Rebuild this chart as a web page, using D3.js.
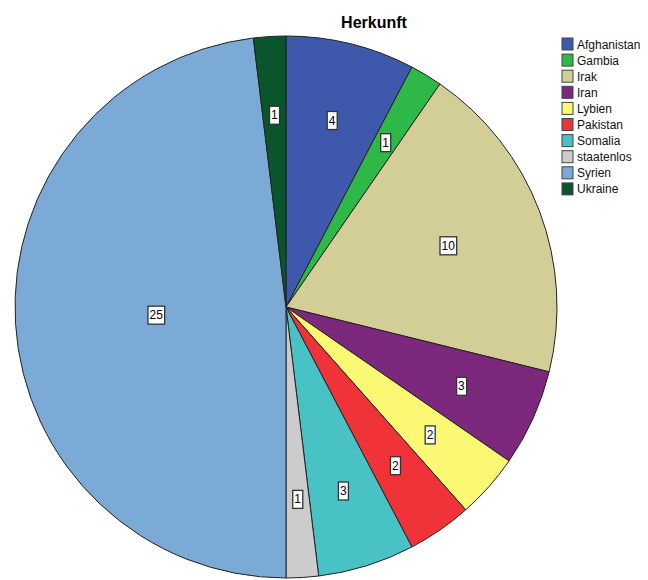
<!doctype html>
<html>
<head>
<meta charset="utf-8">
<script src="https://cdnjs.cloudflare.com/ajax/libs/d3/7.8.5/d3.min.js"></script>
<style>
  body { margin: 0; background: #fff; }
  svg { font-family: Arial, "Liberation Sans", sans-serif; }
</style>
</head>
<body>
<svg id="chart" width="648" height="580"></svg>
<script>
var countries = ["Afghanistan", "Gambia", "Irak", "Iran", "Lybien", "Pakistan", "Somalia", "staatenlos", "Syrien", "Ukraine"];
var counts = [4, 1, 10, 3, 2, 2, 3, 1, 25, 1];
var colours = ["#3e58ac", "#2eb848", "#d3ce97", "#7c287d", "#fbf873", "#ef3338", "#48c2c5", "#cccccc", "#7aaad5", "#0a562c"];

var svg = d3.select("#chart");
var cx = 286, cy = 307, r = 271;

svg.append("text")
  .attr("x", 374).attr("y", 28)
  .attr("text-anchor", "middle")
  .style("font-size", "16px").style("font-weight", "bold")
  .text("Herkunft");

var data = countries.map((c, i) => ({name: c, value: counts[i]}));
var colour = d3.scaleOrdinal().domain(countries).range(colours);

var pie = d3.pie().value(d => d.value).sort(null);
var arc = d3.arc().innerRadius(0).outerRadius(r);
var arcs = pie(data);

var g = svg.append("g").attr("transform", "translate(" + cx + "," + cy + ")");

g.selectAll("path")
  .data(arcs)
  .enter()
  .append("path")
  .attr("d", arc)
  .style("fill", d => colour(d.data.name))
  .style("stroke", "#222")
  .style("stroke-width", "1px");

// value labels in little white boxes
var labels = g.selectAll("g.lbl")
  .data(arcs)
  .enter()
  .append("g")
  .attr("class", "lbl")
  .attr("transform", d => {
    var span = d.endAngle - d.startAngle;
    var k = span > 2 ? 0.48 : (span > 1 ? 0.64 : 0.71);
    var a = (d.startAngle + d.endAngle) / 2;
    return "translate(" + (Math.sin(a) * r * k) + "," + (-Math.cos(a) * r * k) + ")";
  });

labels.append("text")
  .attr("text-anchor", "middle")
  .attr("dy", "0.36em")
  .style("font-size", "12px")
  .text(d => d.data.value);

labels.each(function() {
  var t = d3.select(this).select("text");
  var b = t.node().getBBox();
  d3.select(this).insert("rect", "text")
    .attr("x", b.x - 1.5).attr("y", b.y - 2)
    .attr("width", b.width + 3).attr("height", b.height + 4)
    .style("fill", "#fff")
    .style("stroke", "#333")
    .style("stroke-width", "1.3px");
});

// legend
var legend = svg.append("g").attr("transform", "translate(562,38)");
var rows = legend.selectAll("g")
  .data(countries)
  .enter()
  .append("g")
  .attr("transform", (d, i) => "translate(0," + (i * 16.1) + ")");

rows.append("rect")
  .attr("width", 11).attr("height", 12)
  .style("fill", d => colour(d))
  .style("stroke", "#444")
  .style("stroke-width", "1px");

rows.append("text")
  .attr("x", 15).attr("y", 10.5)
  .style("font-size", "12px")
  .style("fill", "#111")
  .text(d => d);
</script>
</body>
</html>
